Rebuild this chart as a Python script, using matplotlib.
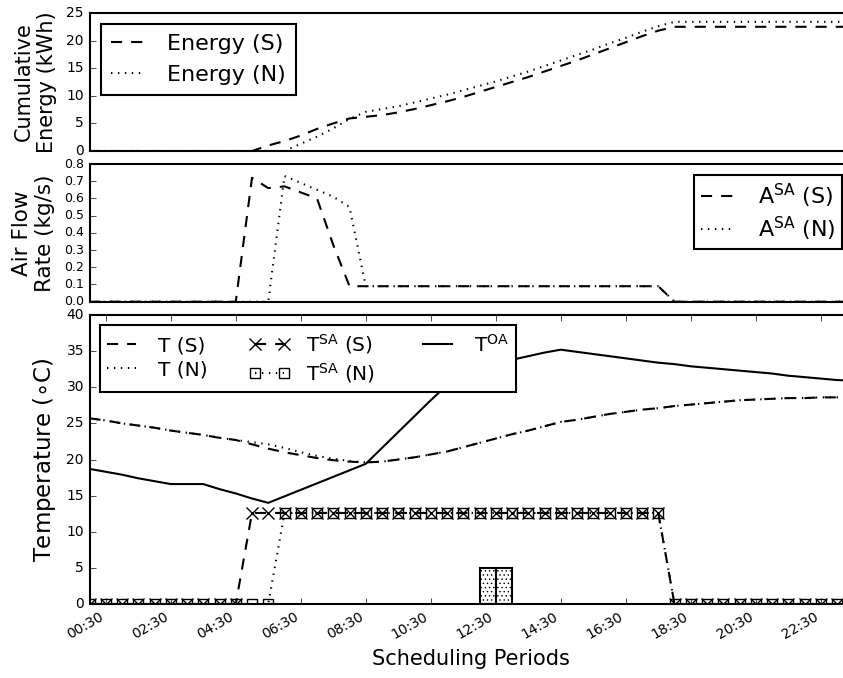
import matplotlib
matplotlib.use('Agg')
import matplotlib.pyplot as plt
from matplotlib.lines import Line2D
from matplotlib.legend_handler import HandlerLine2D
import numpy as np

# half-hour scheduling periods, 00:00 .. 23:30
periods = np.arange(48)
tick_pos = [1, 5, 9, 13, 17, 21, 25, 29, 33, 37, 41, 45]
tick_labels = ['00:30', '02:30', '04:30', '06:30', '08:30', '10:30',
               '12:30', '14:30', '16:30', '18:30', '20:30', '22:30']

# cumulative energy (kWh)
energy_s = [0, 0, 0, 0, 0, 0, 0, 0, 0, 0, 0, 1.0, 1.8, 2.8, 4.0, 5.0,
            5.9, 6.2, 6.5, 7.0, 7.6, 8.3, 9.0, 9.8, 10.7, 11.6, 12.5, 13.4,
            14.4, 15.4, 16.4, 17.5, 18.6, 19.7, 20.8, 21.8, 22.5, 22.5, 22.5,
            22.5, 22.5, 22.5, 22.5, 22.5, 22.5, 22.5, 22.5, 22.5]
energy_n = [0, 0, 0, 0, 0, 0, 0, 0, 0, 0, 0, 0, 0, 1.3, 2.6, 4.1,
            5.8, 7.1, 7.6, 8.1, 8.8, 9.5, 10.2, 11.0, 11.8, 12.6, 13.5, 14.4,
            15.4, 16.4, 17.4, 18.4, 19.5, 20.5, 21.6, 22.6, 23.4, 23.4, 23.4,
            23.4, 23.4, 23.4, 23.4, 23.4, 23.4, 23.4, 23.4, 23.4]

# supply air flow rate (kg/s)
flow_s = [0, 0, 0, 0, 0, 0, 0, 0, 0, 0, 0.72, 0.66, 0.67, 0.635, 0.60, 0.33,
          0.09, 0.09, 0.09, 0.09, 0.09, 0.09, 0.09, 0.09, 0.09, 0.09, 0.09,
          0.09, 0.09, 0.09, 0.09, 0.09, 0.09, 0.09, 0.09, 0.09,
          0, 0, 0, 0, 0, 0, 0, 0, 0, 0, 0, 0]
flow_n = [0, 0, 0, 0, 0, 0, 0, 0, 0, 0, 0, 0, 0.73, 0.69, 0.65, 0.61,
          0.55, 0.09, 0.09, 0.09, 0.09, 0.09, 0.09, 0.09, 0.09, 0.09, 0.09,
          0.09, 0.09, 0.09, 0.09, 0.09, 0.09, 0.09, 0.09, 0.09,
          0, 0, 0, 0, 0, 0, 0, 0, 0, 0, 0, 0]

# temperatures (C)
temp_s = [25.7, 25.4, 25.0, 24.7, 24.4, 24.0, 23.7, 23.4, 23.0, 22.7,
          22.1, 21.5, 21.0, 20.6, 20.2, 19.9, 19.7, 19.6, 19.7, 20.0,
          20.3, 20.7, 21.1, 21.7, 22.3, 22.9, 23.5, 24.0, 24.6, 25.2,
          25.5, 25.9, 26.3, 26.6, 26.9, 27.1, 27.4, 27.6, 27.8, 28.0,
          28.2, 28.3, 28.4, 28.5, 28.5, 28.6, 28.6, 28.6]
temp_n = [25.7, 25.4, 25.0, 24.7, 24.4, 24.0, 23.7, 23.4, 23.0, 22.7,
          22.4, 22.1, 21.6, 21.0, 20.5, 20.1, 19.8, 19.6, 19.7, 20.0,
          20.3, 20.7, 21.1, 21.7, 22.3, 22.9, 23.5, 24.0, 24.6, 25.2,
          25.5, 25.9, 26.3, 26.6, 26.9, 27.1, 27.4, 27.6, 27.8, 28.0,
          28.2, 28.3, 28.4, 28.5, 28.5, 28.6, 28.6, 28.6]
temp_sa_s = [0, 0, 0, 0, 0, 0, 0, 0, 0, 0,
             12.6, 12.6, 12.6, 12.6, 12.6, 12.6, 12.6, 12.6, 12.6, 12.6,
             12.6, 12.6, 12.6, 12.6, 12.6, 12.6, 12.6, 12.6, 12.6, 12.6,
             12.6, 12.6, 12.6, 12.6, 12.6, 12.6,
             0, 0, 0, 0, 0, 0, 0, 0, 0, 0, 0, 0]
temp_sa_n = [0, 0, 0, 0, 0, 0, 0, 0, 0, 0, 0, 0,
             12.6, 12.6, 12.6, 12.6, 12.6, 12.6, 12.6, 12.6,
             12.6, 12.6, 12.6, 12.6, 12.6, 12.6, 12.6, 12.6, 12.6, 12.6,
             12.6, 12.6, 12.6, 12.6, 12.6, 12.6,
             0, 0, 0, 0, 0, 0, 0, 0, 0, 0, 0, 0]
temp_oa = [18.7, 18.3, 17.9, 17.4, 17.0, 16.6, 16.6, 16.6, 15.9, 15.3,
           14.6, 14.0, 14.9, 15.8, 16.7, 17.6, 18.5, 19.4, 21.6, 23.8,
           26.0, 28.2, 30.3, 32.3, 32.8, 33.3, 33.8, 34.3, 34.8, 35.2,
           34.9, 34.6, 34.3, 34.0, 33.7, 33.4, 33.2, 32.9, 32.7, 32.5,
           32.3, 32.1, 31.9, 31.6, 31.4, 31.2, 31.0, 30.9]

# shaded blocks on the temperature axis
block_start = [24, 25]
block_height = [5, 5]

plt.style.use('classic')
plt.rcParams.update({
    'figure.facecolor': 'white',
    'savefig.facecolor': 'white',
    'font.family': 'DejaVu Sans',
    'mathtext.fontset': 'dejavusans',
    'axes.linewidth': 1.5,
    'lines.linewidth': 1.5,
    'lines.scale_dashes': False,
    'legend.numpoints': 2,
    'legend.handlelength': 1.45,
    'legend.handletextpad': 1.1,
    'hatch.linewidth': 0.5,
})

DASH = (0, (8, 6.5))
DOT = (0, (1, 4))
# handle lines run the full length, markers sit at both ends
HMAP = {Line2D: HandlerLine2D(marker_pad=0)}

fig = plt.figure(figsize=(8.43, 6.78), dpi=100)
left = 89.5 / 843
width = 763.75 / 843
ax1 = fig.add_axes([left, 527 / 678, width, 138 / 678])
ax2 = fig.add_axes([left, 376.3 / 678, width, 137.7 / 678])
ax3 = fig.add_axes([left, 74 / 678, width, 289 / 678])

# cumulative energy
ax1.plot(periods, energy_s, color='k', linestyle=DASH, label='Energy (S)')
ax1.plot(periods, energy_n, color='k', linestyle=DOT, label='Energy (N)')
ax1.set_ylim(0, 25)
ax1.set_yticks([0, 5, 10, 15, 20, 25])
ax1.set_ylabel('Cumulative\nEnergy (kWh)', fontsize=15)
leg = ax1.legend(loc='upper left', fontsize=16, borderpad=0.45,
                 handler_map=HMAP)
leg.get_frame().set_linewidth(1.5)

# air flow
ax2.plot(periods, flow_s, color='k', linestyle=DASH, label=r'A$^{\mathrm{SA}}$ (S)')
ax2.plot(periods, flow_n, color='k', linestyle=DOT, label=r'A$^{\mathrm{SA}}$ (N)')
ax2.set_ylim(0, 0.8)
ax2.set_yticks(np.arange(0, 0.81, 0.1))
ax2.set_ylabel('Air Flow\nRate (kg/s)', fontsize=15.5)
leg = ax2.legend(loc='upper right', fontsize=16, labelspacing=0.2,
                 borderpad=0.3, handler_map=HMAP)
leg.get_frame().set_linewidth(1.5)

# temperatures
ax3.bar(block_start, block_height, width=1, align='edge', color='white',
        edgecolor='k', linewidth=1.5, hatch='....', zorder=1)
ax3.plot(periods, temp_s, color='k', linestyle=DASH, label='T (S)')
ax3.plot(periods, temp_n, color='k', linestyle=DOT, label='T (N)')
ax3.plot(periods, temp_sa_s, color='k', linestyle=DASH, marker='x',
         markersize=9, markeredgewidth=1, label=r'T$^{\mathrm{SA}}$ (S)')
ax3.plot(periods, temp_sa_n, color='k', linestyle=DOT, marker='s',
         markersize=7.5, markerfacecolor='none', markeredgewidth=1,
         label=r'T$^{\mathrm{SA}}$ (N)')
ax3.plot(periods, temp_oa, color='k', linestyle='-', label=r'T$^{\mathrm{OA}}$')
ax3.set_ylim(0, 40)
ax3.set_yticks(np.arange(0, 41, 5))
ax3.set_ylabel(r'Temperature ($\circ$C)', fontsize=16.5)
ax3.set_xlabel('Scheduling Periods', fontsize=15)
leg = ax3.legend(loc='upper left', ncol=3, fontsize=14.5, labelspacing=0.25,
                 borderpad=0.35, columnspacing=2.35, handler_map=HMAP)
leg.get_frame().set_linewidth(1.5)

for ax in (ax1, ax2, ax3):
    ax.set_xlim(0, 47)

for ax in (ax1, ax2):
    ax.tick_params(axis='x', bottom=False, top=False, labelbottom=False)

ax3.set_xticks(tick_pos)
ax3.set_xticklabels(tick_labels, rotation=30, ha='right', fontsize=10)
ax1.tick_params(axis='y', labelsize=10)
ax2.tick_params(axis='y', labelsize=9)
ax3.tick_params(axis='y', labelsize=10)

ax1.yaxis.set_label_coords(-0.0425, 0.5)
ax2.yaxis.set_label_coords(-0.045, 0.5)
ax3.yaxis.set_label_coords(-0.041, 0.5)

fig.savefig('out.png', dpi=100)
